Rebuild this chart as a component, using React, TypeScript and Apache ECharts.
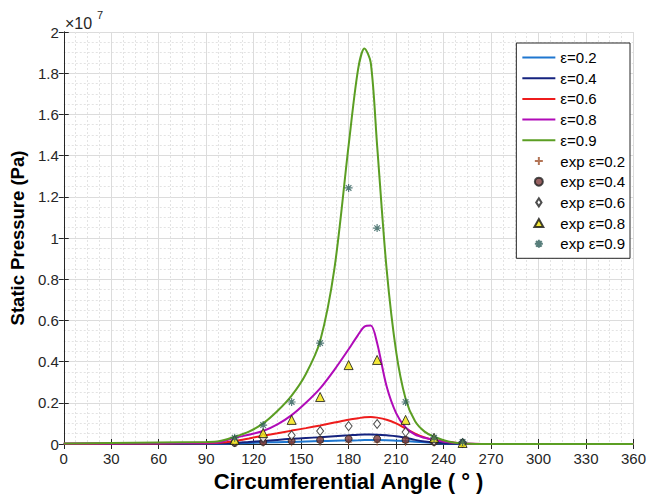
import React, { useEffect, useRef } from "react";
import * as echarts from "echarts";

// Simulated curves (values in units of 1e7 Pa)
const curveAngles = [0, 30, 60, 90, 98, 108, 117, 126, 135, 144, 153, 162, 171, 180, 186, 190, 194, 198, 204, 210, 216, 222, 228, 234, 243, 252, 270, 300, 330, 360];
const eps02 = [0, 0, 0.001, 0.001, 0.001, 0.003, 0.005, 0.007, 0.009, 0.01, 0.012, 0.014, 0.016, 0.017, 0.018, 0.019, 0.019, 0.019, 0.018, 0.016, 0.014, 0.011, 0.008, 0.005, 0.002, 0.001, 0, 0, 0, 0];
const eps04 = [0, 0.001, 0.001, 0.002, 0.002, 0.005, 0.01, 0.015, 0.02, 0.025, 0.029, 0.033, 0.038, 0.042, 0.045, 0.046, 0.046, 0.045, 0.042, 0.038, 0.03, 0.02, 0.012, 0.007, 0.003, 0.001, 0, 0, 0, 0];
const eps06 = [0.001, 0.002, 0.003, 0.004, 0.006, 0.015, 0.027, 0.04, 0.052, 0.065, 0.077, 0.09, 0.104, 0.118, 0.125, 0.13, 0.131, 0.128, 0.118, 0.1, 0.075, 0.05, 0.032, 0.02, 0.01, 0.002, 0, 0, 0, 0];
const eps08 = [0.002, 0.003, 0.004, 0.006, 0.008, 0.03, 0.045, 0.063, 0.095, 0.14, 0.2, 0.27, 0.36, 0.46, 0.53, 0.57, 0.575, 0.49, 0.28, 0.15, 0.08, 0.045, 0.03, 0.02, 0.008, 0.002, 0, 0, 0, 0];
const eps09 = [0.003, 0.005, 0.007, 0.01, 0.013, 0.035, 0.06, 0.1, 0.16, 0.235, 0.34, 0.5, 0.85, 1.45, 1.82, 1.92, 1.85, 1.45, 0.85, 0.45, 0.22, 0.11, 0.06, 0.035, 0.012, 0.003, 0, 0, 0, 0];

// Experimental points
const expAngles = [108, 126, 144, 162, 180, 198, 216, 234, 252];
const exp02 = [0.002, 0.004, 0.006, 0.008, 0.009, 0.009, 0.007, 0.004, 0.002];
const exp04 = [0.005, 0.01, 0.015, 0.02, 0.025, 0.025, 0.02, 0.01, 0.005];
const exp06 = [0.012, 0.03, 0.042, 0.063, 0.087, 0.097, 0.058, 0.015, 0.005];
const exp08 = [0.02, 0.053, 0.117, 0.228, 0.383, 0.408, 0.117, 0.03, 0.005];
const exp09 = [0.03, 0.092, 0.204, 0.49, 1.243, 1.048, 0.204, 0.03, 0.01];

const lineNames = ["ε=0.2", "ε=0.4", "ε=0.6", "ε=0.8", "ε=0.9"];
const expNames = ["exp ε=0.2", "exp ε=0.4", "exp ε=0.6", "exp ε=0.8", "exp ε=0.9"];
const lineColors = ["#1f77d0", "#15237f", "#ee1c1c", "#b00bb8", "#5b9e23"];

const FONT = "'Liberation Sans', Arial, Helvetica, sans-serif";
const PLUS = "path://M10,0 L10,20 M0,10 L20,10";
const STAR = "path://M10,0 L10,20 M0,10 L20,10 M3,3 L17,17 M17,3 L3,17";
const LINE_ICON = "path://M0,0 H33 V2 H0 Z";
const DIAMOND_ICON = "path://M4,0 L8,6 L4,12 L0,6 Z";
const TRIANGLE_ICON = "path://M5,0 L10,9 L0,9 Z";

export default function App() {
  const ref = useRef<HTMLDivElement>(null);
  useEffect(() => {
    if (!ref.current) return;
    const chart = echarts.init(ref.current, undefined, { renderer: "svg" });
    const pair = (xs: number[], ys: number[]) => xs.map((x, i) => [x, ys[i]]);
    const lineSeries = [eps02, eps04, eps06, eps08, eps09].map((ys, i) => ({
      name: lineNames[i],
      type: "line",
      data: pair(curveAngles, ys),
      symbol: "none",
      smooth: 0.3,
      lineStyle: { width: 2, color: lineColors[i] },
      itemStyle: { color: lineColors[i] },
      z: 2 + i,
    }));
    const expStyles = [
      { symbol: PLUS, size: 7, itemStyle: { color: "#a0522d", borderColor: "#a0522d", borderWidth: 1 } },
      { symbol: "circle", size: 7, itemStyle: { color: "#7d3a3a", borderColor: "#222", borderWidth: 1 } },
      { symbol: "diamond", size: [7, 9], itemStyle: { color: "#ffffff", borderColor: "#222", borderWidth: 1 } },
      { symbol: "triangle", size: 9, itemStyle: { color: "#f2e30a", borderColor: "#111", borderWidth: 1 } },
      { symbol: STAR, size: 8, itemStyle: { color: "#2e5e5a", borderColor: "#2e5e5a", borderWidth: 1.2 } },
    ];
    const expSeries = [exp02, exp04, exp06, exp08, exp09].map((ys, i) => ({
      name: expNames[i],
      type: "scatter",
      data: pair(expAngles, ys),
      symbol: expStyles[i].symbol,
      symbolSize: expStyles[i].size,
      itemStyle: expStyles[i].itemStyle,
      z: 10 + i,
    }));

    const axisLine = { show: true, lineStyle: { color: "#262626", width: 1 } };
    const expIcons = [PLUS, "circle", DIAMOND_ICON, TRIANGLE_ICON, STAR];
    chart.setOption({
      animation: false,
      grid: { left: 63, right: 14, top: 32, bottom: 55, containLabel: false },
      xAxis: [
        {
          type: "value", min: 0, max: 360, interval: 30, position: "bottom",
          name: "Circumferential Angle ( ° )", nameLocation: "middle", nameGap: 26,
          nameTextStyle: { fontFamily: FONT, fontSize: 22, fontWeight: "bold", color: "#000" },
          axisLine, axisTick: { show: true, inside: true, length: 5, lineStyle: { color: "#262626" } },
          axisLabel: { fontFamily: FONT, fontSize: 15, color: "#262626", margin: 7 },
          splitLine: { show: true, lineStyle: { color: "#dcdcdc", width: 1 } },
          minorTick: { show: false, splitNumber: 4 },
          minorSplitLine: { show: true, lineStyle: { color: "#e3e3e3", type: [2, 2], width: 1 } },
        },
        {
          type: "value", min: 0, max: 360, interval: 30, position: "top",
          axisLine, axisTick: { show: true, inside: true, length: 5, lineStyle: { color: "#262626" } },
          axisLabel: { show: false }, splitLine: { show: false },
        },
      ],
      yAxis: [
        {
          type: "value", min: 0, max: 2, interval: 0.2, position: "left",
          name: "Static Pressure (Pa)", nameLocation: "middle", nameGap: 36,
          nameTextStyle: { fontFamily: FONT, fontSize: 18.5, fontWeight: "bold", color: "#000" },
          axisLine, axisTick: { show: true, inside: true, length: 5, lineStyle: { color: "#262626" } },
          axisLabel: { fontFamily: FONT, fontSize: 15, color: "#262626", margin: 5, formatter: (v: number) => String(Math.round(v * 10) / 10) },
          splitLine: { show: true, lineStyle: { color: "#dcdcdc", width: 1 } },
          minorTick: { show: false, splitNumber: 4 },
          minorSplitLine: { show: true, lineStyle: { color: "#e3e3e3", type: [2, 2], width: 1 } },
        },
        {
          type: "value", min: 0, max: 2, interval: 0.2, position: "right",
          axisLine, axisTick: { show: true, inside: true, length: 5, lineStyle: { color: "#262626" } },
          axisLabel: { show: false }, splitLine: { show: false },
        },
      ],
      legend: {
        orient: "vertical", right: 19, top: 43,
        padding: [7, 5, 7, 6],
        itemWidth: 33, itemHeight: 8, itemGap: 5.7, itemSymbolKeepAspect: true,
        backgroundColor: "#ffffff", borderColor: "#262626", borderWidth: 1, borderRadius: 0,
        textStyle: { fontFamily: FONT, fontSize: 15, lineHeight: 15, color: "#000" },
        data: [
          ...lineNames.map((n) => ({ name: n, icon: LINE_ICON })),
          ...expNames.map((n, i) => ({ name: n, icon: expIcons[i] })),
        ],
      },
      graphic: [
        { type: "text", left: 65, top: 15, style: { text: "×10", font: `16px ${FONT}`, fill: "#262626" } },
        { type: "text", left: 97, top: 9, style: { text: "7", font: `11px ${FONT}`, fill: "#262626" } },
      ],
      series: [...lineSeries, ...expSeries],
    });
    return () => chart.dispose();
  }, []);
  return <div ref={ref} style={{ width: 649, height: 499, position: "absolute", left: 0, top: 0, background: "#fff" }} />;
}
